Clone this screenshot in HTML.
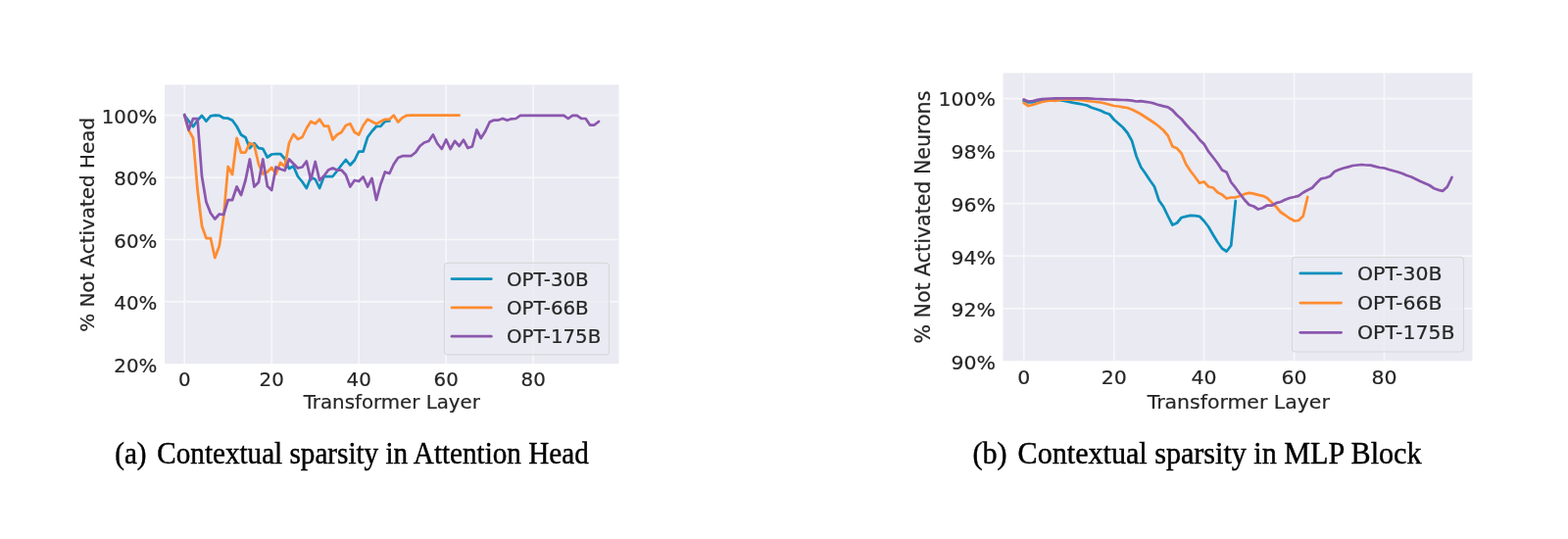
<!DOCTYPE html>
<html lang="en"><head><meta charset="utf-8"><title>Contextual sparsity</title>
<style>
html,body{margin:0;padding:0;background:#fff;}
body{width:1600px;height:550px;overflow:hidden;position:relative;}
svg{display:block;position:absolute;left:0;top:0;}
</style></head><body>
<svg width="1600" height="550" viewBox="0 0 1600 550">
<rect width="1600" height="550" fill="#fff"/>
<rect x="168.0" y="86.5" width="463.5" height="284.7" fill="#eaeaf2"/>
<path d="M188.2 86.5V371.2M277.2 86.5V371.2M366.2 86.5V371.2M455.2 86.5V371.2M544.2 86.5V371.2M168.0 117.7H631.5M168.0 181.1H631.5M168.0 244.5H631.5M168.0 307.9H631.5" stroke="#fff" stroke-opacity="0.6" stroke-width="1.7" fill="none"/>
<polyline points="188.2,117.7 192.6,123.5 197.1,129.2 201.5,122.8 206.0,118.0 210.4,123.7 214.9,118.3 219.3,117.7 223.8,117.8 228.2,120.5 232.7,120.7 237.1,122.8 241.6,129.0 246.0,137.5 250.5,140.2 254.9,151.2 259.4,146.2 263.9,151.2 268.3,151.8 272.8,160.5 277.2,157.5 281.6,157.0 286.1,157.0 290.6,162.0 295.0,172.0 299.4,169.5 303.9,180.0 308.4,185.5 312.8,192.0 317.2,181.0 321.7,183.0 326.1,192.0 330.6,180.0 335.0,180.0 339.5,180.0 343.9,174.5 348.4,168.5 352.9,163.0 357.3,168.5 361.8,163.5 366.2,154.5 370.6,154.5 375.1,140.0 379.5,134.0 384.0,129.0 388.4,128.8 392.9,123.8 397.4,123.5" fill="none" stroke="#0b90bd" stroke-width="2.75" stroke-linejoin="round" stroke-linecap="round"/>
<polyline points="188.2,117.7 192.6,133.0 197.1,141.0 201.5,193.0 206.0,230.5 210.4,243.0 214.9,243.0 219.3,263.0 223.8,251.0 228.2,221.0 232.7,170.0 237.1,178.0 241.6,141.0 246.0,155.5 250.5,155.5 254.9,146.0 259.4,148.0 263.9,167.5 268.3,177.5 272.8,175.5 277.2,171.0 281.6,177.5 286.1,166.0 290.6,170.0 295.0,146.0 299.4,137.0 303.9,142.0 308.4,140.0 312.8,131.0 317.2,124.0 321.7,126.2 326.1,121.8 330.6,128.5 335.0,128.5 339.5,142.5 343.9,137.5 348.4,135.0 352.9,128.0 357.3,126.2 361.8,135.0 366.2,137.5 370.6,128.0 375.1,121.8 379.5,124.0 384.0,126.5 388.4,124.0 392.9,121.8 397.4,121.8 401.8,117.7 406.2,124.5 410.7,120.0 415.1,117.8 419.6,117.7 424.1,117.7 428.5,117.7 432.9,117.7 437.4,117.7 441.9,117.7 446.3,117.7 450.8,117.7 455.2,117.7 459.6,117.7 464.1,117.7 468.6,117.7" fill="none" stroke="#ff8c30" stroke-width="2.75" stroke-linejoin="round" stroke-linecap="round"/>
<polyline points="188.2,117.0 192.6,132.5 197.1,121.0 201.5,121.0 206.0,180.0 210.4,206.0 214.9,217.5 219.3,223.5 223.8,218.5 228.2,219.0 232.7,204.0 237.1,204.0 241.6,190.5 246.0,199.0 250.5,184.0 254.9,162.5 259.4,190.5 263.9,186.0 268.3,162.5 272.8,190.0 277.2,194.0 281.6,170.5 286.1,172.5 290.6,174.0 295.0,162.5 299.4,167.0 303.9,171.5 308.4,170.5 312.8,164.5 317.2,183.5 321.7,165.0 326.1,184.0 330.6,179.5 335.0,173.5 339.5,171.5 343.9,173.5 348.4,173.5 352.9,178.5 357.3,190.5 361.8,184.0 366.2,185.0 370.6,180.5 375.1,190.5 379.5,182.0 384.0,204.0 388.4,188.0 392.9,175.5 397.4,177.0 401.8,167.5 406.2,161.0 410.7,159.2 415.1,159.0 419.6,159.0 424.1,155.5 428.5,149.0 432.9,145.5 437.4,144.0 441.9,137.5 446.3,146.5 450.8,152.0 455.2,142.5 459.6,152.0 464.1,144.0 468.6,149.0 473.0,142.8 477.4,151.0 481.9,149.5 486.4,132.5 490.8,141.0 495.2,134.0 499.7,124.5 504.1,122.5 508.6,122.5 513.0,121.0 517.5,122.8 522.0,121.3 526.4,121.0 530.9,117.8 535.3,117.8 539.8,117.8 544.2,117.8 548.6,117.8 553.1,117.8 557.5,117.8 562.0,117.8 566.5,117.8 570.9,117.8 575.4,117.8 579.8,121.0 584.2,117.8 588.7,117.8 593.1,120.8 597.6,121.0 602.0,127.5 606.5,127.5 611.0,124.0" fill="none" stroke="#8b57ae" stroke-width="2.75" stroke-linejoin="round" stroke-linecap="round"/>
<g font-family="'DejaVu Sans', 'Liberation Sans', sans-serif" font-size="19.8" fill="#262626" stroke="#262626" stroke-width="0.2">
<text x="160.30" y="125.62" text-anchor="end">100%</text>
<text x="160.30" y="189.24" text-anchor="end">80%</text>
<text x="160.30" y="252.87" text-anchor="end">60%</text>
<text x="160.30" y="316.49" text-anchor="end">40%</text>
<text x="160.30" y="380.12" text-anchor="end">20%</text>
<text x="188.20" y="393.80" text-anchor="middle">0</text>
<text x="277.20" y="393.80" text-anchor="middle">20</text>
<text x="366.20" y="393.80" text-anchor="middle">40</text>
<text x="455.20" y="393.80" text-anchor="middle">60</text>
<text x="544.20" y="393.80" text-anchor="middle">80</text>
<text x="399.75" y="417.20" text-anchor="middle">Transformer Layer</text>
<text transform="translate(95.8 229.4) rotate(-90)" text-anchor="middle" font-size="19.9">% Not Activated Head</text>
<rect x="453.5" y="268.4" width="168.0" height="93.5" rx="3.5" fill="#eaeaf2" fill-opacity="0.8" stroke="#ccc" stroke-opacity="0.6" stroke-width="1.1"/>
<line x1="461.0" x2="501.3" y1="284.6" y2="284.6" stroke="#0b90bd" stroke-width="2.75" stroke-linecap="round"/>
<text x="517.00" y="291.82">OPT-30B</text>
<line x1="461.0" x2="501.3" y1="313.9" y2="313.9" stroke="#ff8c30" stroke-width="2.75" stroke-linecap="round"/>
<text x="517.00" y="321.12">OPT-66B</text>
<line x1="461.0" x2="501.3" y1="343.2" y2="343.2" stroke="#8b57ae" stroke-width="2.75" stroke-linecap="round"/>
<text x="517.00" y="350.42">OPT-175B</text>
</g>
<rect x="1023.5" y="74.5" width="479.0" height="293.8" fill="#eaeaf2"/>
<path d="M1044.7 74.5V368.3M1136.7 74.5V368.3M1228.6 74.5V368.3M1320.6 74.5V368.3M1412.5 74.5V368.3M1023.5 100.6H1502.5M1023.5 154.2H1502.5M1023.5 207.7H1502.5M1023.5 261.2H1502.5M1023.5 314.8H1502.5" stroke="#fff" stroke-opacity="0.6" stroke-width="1.7" fill="none"/>
<polyline points="1044.7,103.0 1049.3,104.5 1053.9,104.3 1058.5,103.0 1063.1,102.2 1067.7,101.8 1072.3,101.5 1076.9,101.5 1081.5,102.2 1086.1,103.0 1090.7,104.0 1095.3,104.8 1099.9,105.7 1104.5,106.5 1109.1,107.5 1113.7,109.8 1118.3,111.3 1122.9,112.8 1127.5,115.0 1132.1,116.5 1136.7,122.0 1141.2,126.0 1145.8,130.0 1150.4,135.5 1155.0,143.7 1159.6,159.5 1164.2,170.5 1168.8,177.0 1173.4,184.0 1178.0,190.5 1182.6,204.5 1187.2,211.0 1191.8,220.5 1196.4,229.5 1201.0,227.5 1205.6,222.0 1210.2,220.8 1214.8,219.8 1219.4,220.2 1224.0,220.8 1228.6,225.5 1233.2,231.5 1237.8,239.5 1242.4,247.0 1247.0,253.5 1251.6,256.5 1256.2,250.5 1260.8,205.0" fill="none" stroke="#0b90bd" stroke-width="2.75" stroke-linejoin="round" stroke-linecap="round"/>
<polyline points="1044.7,105.0 1049.3,108.0 1053.9,107.0 1058.5,105.5 1063.1,104.0 1067.7,103.2 1072.3,102.5 1076.9,102.8 1081.5,102.0 1086.1,101.5 1090.7,101.5 1095.3,101.5 1099.9,101.8 1104.5,102.2 1109.1,102.8 1113.7,103.5 1118.3,104.0 1122.9,104.5 1127.5,105.5 1132.1,106.8 1136.7,108.0 1141.2,108.5 1145.8,109.3 1150.4,110.0 1155.0,111.7 1159.6,114.0 1164.2,116.5 1168.8,119.5 1173.4,122.5 1178.0,125.5 1182.6,129.0 1187.2,133.0 1191.8,138.5 1196.4,149.5 1201.0,151.3 1205.6,156.5 1210.2,167.5 1214.8,174.5 1219.4,180.5 1224.0,186.7 1228.6,185.5 1233.2,190.5 1237.8,191.5 1242.4,196.2 1247.0,198.6 1251.6,202.5 1256.2,201.5 1260.8,201.3 1265.4,200.0 1270.0,198.0 1274.6,196.8 1279.2,197.7 1283.8,198.8 1288.4,199.8 1293.0,202.0 1297.6,206.5 1302.2,211.0 1306.8,216.5 1311.4,219.5 1316.0,222.8 1320.6,225.3 1325.1,225.0 1329.7,220.5 1334.3,201.0" fill="none" stroke="#ff8c30" stroke-width="2.75" stroke-linejoin="round" stroke-linecap="round"/>
<polyline points="1044.7,101.5 1049.3,103.5 1053.9,103.0 1058.5,101.8 1063.1,101.2 1067.7,100.8 1072.3,100.5 1076.9,100.4 1081.5,100.4 1086.1,100.4 1090.7,100.4 1095.3,100.4 1099.9,100.4 1104.5,100.4 1109.1,100.4 1113.7,100.7 1118.3,101.0 1122.9,101.2 1127.5,101.4 1132.1,101.5 1136.7,101.7 1141.2,101.8 1145.8,102.0 1150.4,102.2 1155.0,102.6 1159.6,103.5 1164.2,103.2 1168.8,103.8 1173.4,104.5 1178.0,105.7 1182.6,107.2 1187.2,108.3 1191.8,109.4 1196.4,112.5 1201.0,117.5 1205.6,121.5 1210.2,127.0 1214.8,132.0 1219.4,136.5 1224.0,142.5 1228.6,147.0 1233.2,154.7 1237.8,160.5 1242.4,166.5 1247.0,173.5 1251.6,175.7 1256.2,186.0 1260.8,191.7 1265.4,198.0 1270.0,204.0 1274.6,209.0 1279.2,210.5 1283.8,213.5 1288.4,212.2 1293.0,209.5 1297.6,209.7 1302.2,207.2 1306.8,206.0 1311.4,203.8 1316.0,202.0 1320.6,201.0 1325.1,199.8 1329.7,196.5 1334.3,194.0 1338.9,191.7 1343.5,186.8 1348.1,182.3 1352.7,181.5 1357.3,179.7 1361.9,175.0 1366.5,173.0 1371.1,171.5 1375.7,170.3 1380.3,169.0 1384.9,168.5 1389.5,168.0 1394.1,168.5 1398.7,168.7 1403.3,169.8 1407.9,171.0 1412.5,171.5 1417.1,173.0 1421.7,174.3 1426.3,175.5 1430.9,177.0 1435.5,179.0 1440.1,180.5 1444.7,182.8 1449.3,185.0 1453.9,187.0 1458.5,189.0 1463.1,192.2 1467.7,193.8 1472.3,194.8 1476.9,190.5 1481.5,181.0" fill="none" stroke="#8b57ae" stroke-width="2.75" stroke-linejoin="round" stroke-linecap="round"/>
<g font-family="'DejaVu Sans', 'Liberation Sans', sans-serif" font-size="19.2" fill="#262626" stroke="#262626" stroke-width="0.2">
<text transform="translate(1015.90 108.25) scale(1.0650 1)" text-anchor="end">100%</text>
<text transform="translate(1015.90 162.05) scale(1.0650 1)" text-anchor="end">98%</text>
<text transform="translate(1015.90 215.85) scale(1.0650 1)" text-anchor="end">96%</text>
<text transform="translate(1015.90 269.65) scale(1.0650 1)" text-anchor="end">94%</text>
<text transform="translate(1015.90 323.45) scale(1.0650 1)" text-anchor="end">92%</text>
<text transform="translate(1015.90 377.25) scale(1.0650 1)" text-anchor="end">90%</text>
<text transform="translate(1044.70 392.40) scale(1.0650 1)" text-anchor="middle">0</text>
<text transform="translate(1136.65 392.40) scale(1.0650 1)" text-anchor="middle">20</text>
<text transform="translate(1228.60 392.40) scale(1.0650 1)" text-anchor="middle">40</text>
<text transform="translate(1320.55 392.40) scale(1.0650 1)" text-anchor="middle">60</text>
<text transform="translate(1412.50 392.40) scale(1.0650 1)" text-anchor="middle">80</text>
<text transform="translate(1263.75 416.80) scale(1.0650 1)" text-anchor="middle">Transformer Layer</text>
<text transform="translate(949.2 221.6) rotate(-90)" text-anchor="middle" font-size="20.57">% Not Activated Neurons</text>
<rect x="1318.5" y="262.4" width="175.0" height="96.6" rx="3.5" fill="#eaeaf2" fill-opacity="0.8" stroke="#ccc" stroke-opacity="0.6" stroke-width="1.1"/>
<line x1="1326.8" x2="1368.5" y1="278.9" y2="278.9" stroke="#0b90bd" stroke-width="2.75" stroke-linecap="round"/>
<text transform="translate(1385.00 285.60) scale(1.0650 1)">OPT-30B</text>
<line x1="1326.8" x2="1368.5" y1="309.1" y2="309.1" stroke="#ff8c30" stroke-width="2.75" stroke-linecap="round"/>
<text transform="translate(1385.00 315.80) scale(1.0650 1)">OPT-66B</text>
<line x1="1326.8" x2="1368.5" y1="339.3" y2="339.3" stroke="#8b57ae" stroke-width="2.75" stroke-linecap="round"/>
<text transform="translate(1385.00 346.00) scale(1.0650 1)">OPT-175B</text>
</g>
<g font-family="'Liberation Serif', 'DejaVu Serif', serif" font-size="31.5" fill="#000" stroke="#000" stroke-width="0.45">
<text transform="translate(117.2 472.8) scale(0.9257 1)">(a)</text><text transform="translate(160.3 472.8) scale(0.9257 1)">Contextual sparsity in Attention Head</text>
<text transform="translate(992.4 472.8) scale(0.9562 1)">(b)</text><text transform="translate(1038.6 472.8) scale(0.9562 1)">Contextual sparsity in MLP Block</text>
</g>
</svg>
</body></html>
